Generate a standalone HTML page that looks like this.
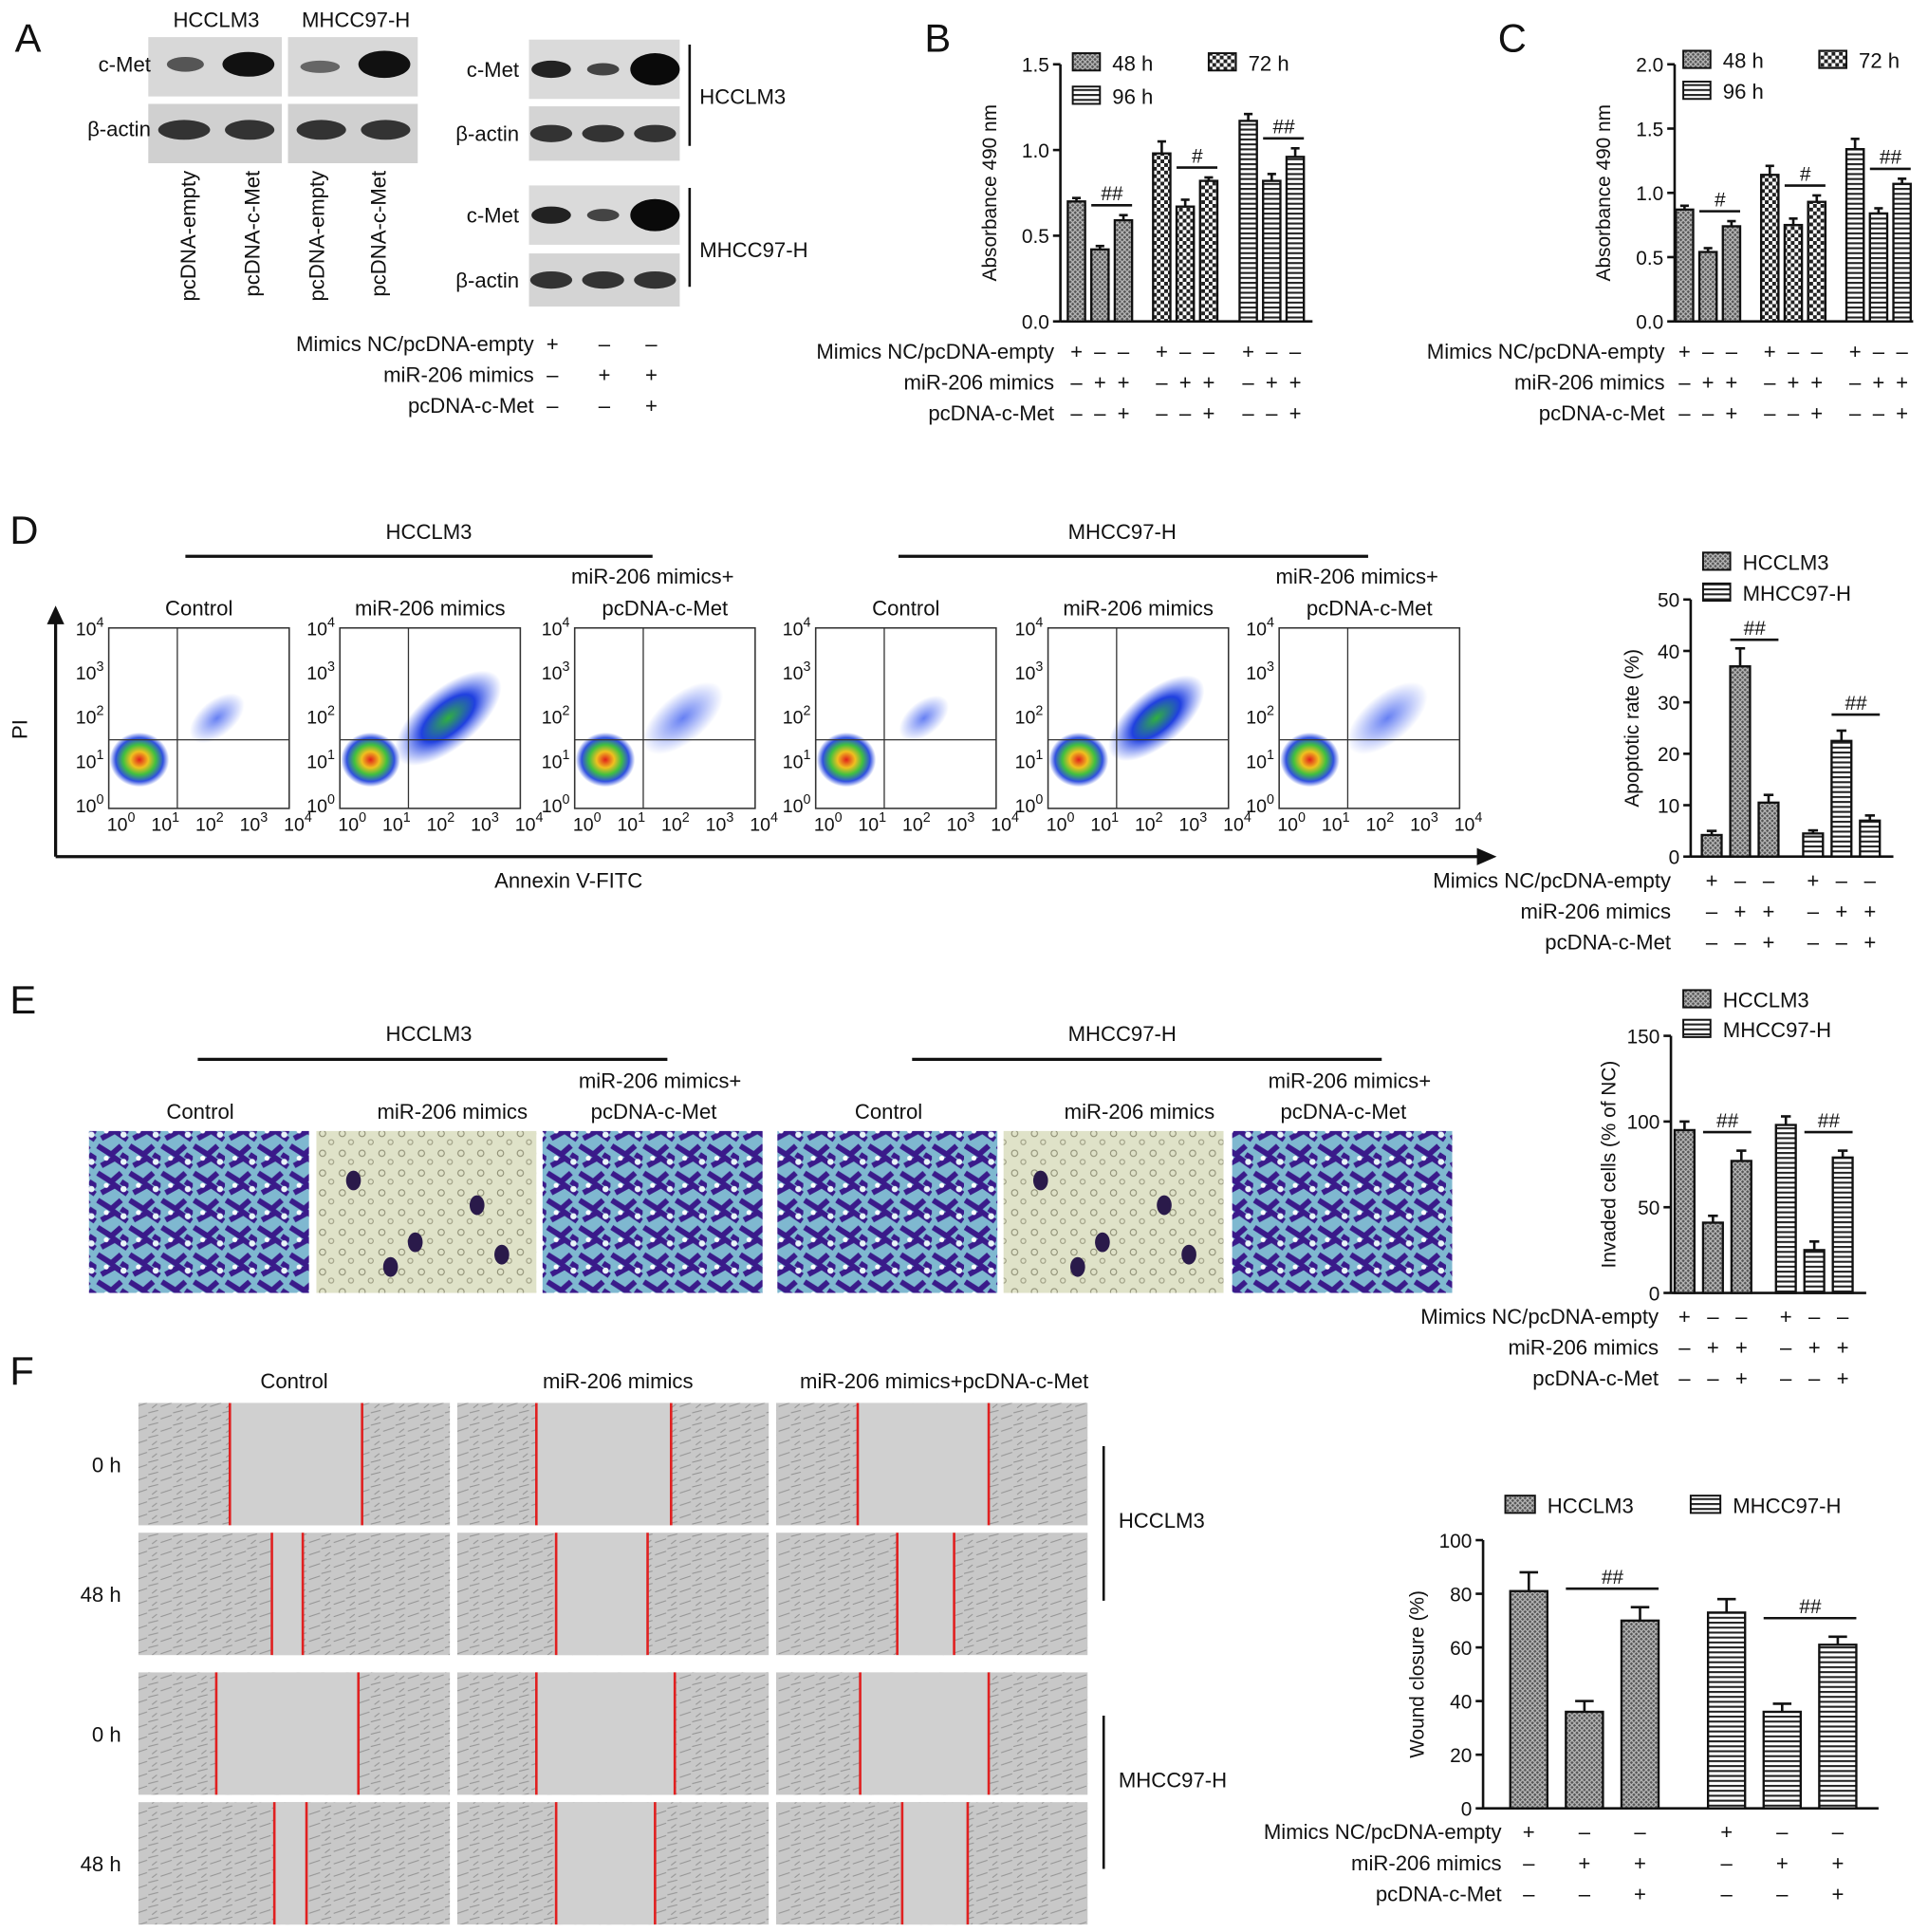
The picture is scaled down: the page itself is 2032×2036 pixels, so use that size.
<!DOCTYPE html>
<html><head><meta charset="utf-8"><style>
html,body{margin:0;padding:0;background:#fff;}
svg{display:block;font-family:"Liberation Sans",sans-serif;}
</style></head><body>
<svg id="fig" width="2032" height="2036" viewBox="0 0 1560 1563" xmlns="http://www.w3.org/2000/svg">
<defs>
<pattern id="pX" width="4" height="4" patternUnits="userSpaceOnUse"><rect width="4" height="4" fill="#555"/><path d="M0 0L4 4M4 0L0 4" stroke="#bbb" stroke-width="0.9"/></pattern>
<pattern id="pC" width="6" height="6" patternUnits="userSpaceOnUse"><rect width="6" height="6" fill="#fff"/><rect width="3" height="3" fill="#222"/><rect x="3" y="3" width="3" height="3" fill="#222"/></pattern>
<pattern id="pH" width="4" height="4" patternUnits="userSpaceOnUse"><rect width="4" height="4" fill="#fff"/><rect width="4" height="1.6" fill="#222"/></pattern>
<radialGradient id="gCore"><stop offset="0" stop-color="#e0201a"/><stop offset="0.3" stop-color="#f0c020"/><stop offset="0.55" stop-color="#40c040"/><stop offset="0.8" stop-color="#3050e0"/><stop offset="1" stop-color="#3050e0" stop-opacity="0"/></radialGradient>
<radialGradient id="gDiag"><stop offset="0" stop-color="#30b040"/><stop offset="0.5" stop-color="#2040e0"/><stop offset="1" stop-color="#4060f0" stop-opacity="0"/></radialGradient>
<radialGradient id="gDiagL"><stop offset="0" stop-color="#4060f0" stop-opacity="0.8"/><stop offset="1" stop-color="#4060f0" stop-opacity="0"/></radialGradient>
<pattern id="pInvD" width="26" height="22" patternUnits="userSpaceOnUse"><rect width="26" height="22" fill="#7fb8d0"/><path d="M1 3L12 10L20 3M4 19L15 13L25 20M20 10L26 14" stroke="#3a1a8a" stroke-width="4.5" fill="none"/><circle cx="22" cy="16" r="2.5" fill="#e8f4f8"/><circle cx="8" cy="13" r="2" fill="#fff"/></pattern>
<pattern id="pInvL" width="16" height="16" patternUnits="userSpaceOnUse"><rect width="16" height="16" fill="#dfe2c8"/><circle cx="5" cy="5" r="2.5" fill="none" stroke="#8a8a70" stroke-width="0.8"/><circle cx="12" cy="12" r="2" fill="none" stroke="#9a9a80" stroke-width="0.8"/></pattern>
<pattern id="pWound" width="20" height="10" patternUnits="userSpaceOnUse"><rect width="20" height="10" fill="#c8c8c8"/><path d="M0 3L8 1M10 8L19 5M3 9L7 6" stroke="#939393" stroke-width="0.8"/></pattern>
</defs>
<g id="root"></g>
</svg>
<script>
// ===== Data =====
const groupsSigns = [["+","–","–"],["–","+","+"],["–","–","+"]];
const rowLabels = ["Mimics NC/pcDNA-empty","miR-206 mimics","pcDNA-c-Met"];
const B_ticks = [0,0.5,1.0,1.5];
const B_48 = [0.70,0.42,0.59];
const B_72 = [0.98,0.67,0.82];
const B_96 = [1.17,0.82,0.96];
const B_err = [[0.02,0.02,0.03],[0.07,0.04,0.02],[0.04,0.04,0.05]];
const C_ticks = [0,0.5,1.0,1.5,2.0];
const C_48 = [0.87,0.54,0.74];
const C_72 = [1.14,0.75,0.93];
const C_96 = [1.34,0.84,1.07];
const C_err = [[0.03,0.03,0.04],[0.07,0.05,0.05],[0.08,0.04,0.04]];
const D_ticks = [0,10,20,30,40,50];
const D_HCC = [4.2,37,10.5];
const D_MHCC = [4.5,22.5,7];
const D_err = [[0.8,3.5,1.5],[0.6,2,1]];
const E_ticks = [0,50,100,150];
const E_HCC = [95,41,77];
const E_MHCC = [98,25,79];
const E_err = [[5,4,6],[5,5,4]];
const F_ticks = [0,20,40,60,80,100];
const F_HCC = [81,36,70];
const F_MHCC = [73,36,61];
const F_err = [[7,4,5],[5,3,3]];

const NS="http://www.w3.org/2000/svg";
const root=document.getElementById('root');
function el(tag,attrs,parent,text){const e=document.createElementNS(NS,tag);for(const k in attrs)e.setAttribute(k,attrs[k]);if(text!==undefined)e.textContent=text;(parent||root).appendChild(e);return e;}
function txt(x,y,s,size,anchor,parent,extra){const a={x:x,y:y,'font-size':size,'text-anchor':anchor||'start',fill:'#111'};if(extra)for(const k in extra)a[k]=extra[k];return el('text',a,parent,s);}

[["A",12,42],["B",748,42],["C",1212,42],["D",8,440],["E",8,820],["F",8,1120]].forEach(p=>{
 const t=txt(p[1],p[2],p[0],32,'start');
 
 
});

function barChart(o){
 const g=el('g',{});
 
 
 const y=v=>o.y0-(v/o.max)*(o.y0-o.yTop);
 el('line',{x1:o.x0,y1:o.yTop,x2:o.x0,y2:o.y0,stroke:'#111','stroke-width':2},g);
 el('line',{x1:o.x0,y1:o.y0,x2:o.xEnd,y2:o.y0,stroke:'#111','stroke-width':2},g);
 o.ticks.forEach(t=>{
  el('line',{x1:o.x0-6,y1:y(t),x2:o.x0,y2:y(t),stroke:'#111','stroke-width':2},g);
  const tl=txt(o.x0-9,y(t)+6,o.fmt?o.fmt(t):String(t),o.fs||16,'end',g);
  
  
 });
 const yt=txt(0,0,o.ytitle,o.fs||16,'middle',g,{transform:`translate(${o.x0-o.ytOff},${(o.y0+o.yTop)/2}) rotate(-90)`});
 
 
 o.series.forEach((vals,gi)=>{
  vals.forEach((v,i)=>{
   const cx=o.gx[gi]+i*o.step;
   const e=o.err[gi][i];
   el('line',{x1:cx,y1:y(v+e),x2:cx,y2:y(v),stroke:'#111','stroke-width':2},g);
   el('line',{x1:cx-o.bw/4,y1:y(v+e),x2:cx+o.bw/4,y2:y(v+e),stroke:'#111','stroke-width':2},g);
   const r=el('rect',{x:cx-o.bw/2,y:y(v),width:o.bw,height:o.y0-y(v),fill:`url(#${o.pat[gi]})`,stroke:'#111','stroke-width':1.8},g);
   
   
  });
  const xa=o.gx[gi]+o.step-o.bw/2, xb=o.gx[gi]+2*o.step+o.bw/2;
  const top=Math.max(vals[1]+o.err[gi][1],vals[2]+o.err[gi][2]);
  const gap=Array.isArray(o.sigGap)?o.sigGap[gi]:o.sigGap;
  const ly=y(top)-gap;
  el('line',{x1:xa,y1:ly,x2:xb,y2:ly,stroke:'#111','stroke-width':2},g);
  const s=txt((xa+xb)/2,ly-4,o.sig[gi],o.fs||16,'middle',g,{'font-style':'italic'});
  
  
 });
 rowLabels.forEach((lab,r)=>{
  const ry=o.y0+o.rowY0+r*o.rowDy;
  const l=txt(o.labX,ry,lab,o.lfs||17,'end',g);
  
  
  o.series.forEach((vals,gi)=>{vals.forEach((v,i)=>{
   txt(o.gx[gi]+i*o.step,ry,groupsSigns[r][i],o.lfs||17,'middle',g);
  });});
 });
 o.legend.forEach(L=>{
  const lr=el('rect',{x:L[0],y:L[1],width:o.lw||22,height:14,fill:`url(#${L[3]})`,stroke:'#111','stroke-width':1.5},g);
  
  
  const lt=txt(L[0]+(o.lw||22)+10,L[1]+14,L[2],o.legfs||17,'start',g);
  
  
 });
}

barChart({name:'chart-b',x0:858,xEnd:1062,y0:260,yTop:52,max:1.5,ticks:B_ticks,fmt:t=>t.toFixed(1),ytitle:'Absorbance 490 nm',ytOff:52,
 series:[B_48,B_72,B_96],err:B_err,gx:[871,940,1010],step:19,bw:14,pat:['pX','pC','pH'],sname:['48h','72h','96h'],sig:['##','#','##'],sigGap:8,
 rowY0:30,rowDy:25,labX:853,legend:[[868,43,'48 h','pX'],[978,43,'72 h','pC'],[868,70,'96 h','pH']]});
barChart({name:'chart-c',x0:1355,xEnd:1548,y0:260,yTop:52,max:2.0,ticks:C_ticks,fmt:t=>t.toFixed(1),ytitle:'Absorbance 490 nm',ytOff:52,
 series:[C_48,C_72,C_96],err:C_err,gx:[1363,1432,1501],step:19,bw:14,pat:['pX','pC','pH'],sname:['48h','72h','96h'],sig:['#','#','##'],sigGap:8,
 rowY0:30,rowDy:25,labX:1347,legend:[[1362,41,'48 h','pX'],[1472,41,'72 h','pC'],[1362,66,'96 h','pH']]});
barChart({name:'chart-d',x0:1368,xEnd:1532,y0:693,yTop:485,max:50,ticks:D_ticks,ytitle:'Apoptotic rate (%)',ytOff:42,
 series:[D_HCC,D_MHCC],err:D_err,gx:[1385,1467],step:23,bw:16,pat:['pX','pH'],sname:['hcclm3','mhcc97h'],sig:['##','##'],sigGap:[7,13],
 rowY0:25,rowDy:25,labX:1352,legend:[[1378,447,'HCCLM3','pX'],[1378,472,'MHCC97-H','pH']]});
barChart({name:'chart-e',x0:1352,xEnd:1510,y0:1046,yTop:838,max:150,ticks:E_ticks,ytitle:'Invaded cells (% of NC)',ytOff:45,
 series:[E_HCC,E_MHCC],err:E_err,gx:[1363,1445],step:23,bw:16,pat:['pX','pH'],sname:['hcclm3','mhcc97h'],sig:['##','##'],sigGap:15,
 rowY0:25,rowDy:25,labX:1342,legend:[[1362,801,'HCCLM3','pX'],[1362,825,'MHCC97-H','pH']]});
barChart({name:'chart-f',x0:1200,xEnd:1520,y0:1463,yTop:1246,max:100,ticks:F_ticks,ytitle:'Wound closure (%)',ytOff:48,
 series:[F_HCC,F_MHCC],err:F_err,gx:[1237,1397],step:45,bw:30,pat:['pX','pH'],sname:['hcclm3','mhcc97h'],sig:['##','##'],sigGap:15,
 rowY0:25,rowDy:25,labX:1215,lw:24,legend:[[1218,1210,'HCCLM3','pX'],[1368,1210,'MHCC97-H','pH']]});

// ===== Panel A =====
(function(){
 const g=el('g',{});
 
 
 [[120,228],[233,338]].forEach(b=>{
  el('rect',{x:b[0],y:30,width:b[1]-b[0],height:48,fill:'#d8d8d8'},g);
  el('rect',{x:b[0],y:84,width:b[1]-b[0],height:48,fill:'#d0d0d0'},g);
 });
 [[135,165,52,6,'#555'],[180,222,52,10,'#111'],[243,275,54,5,'#666'],[290,332,52,11,'#111'],
  [128,170,105,8,'#333'],[182,222,105,8,'#333'],[240,280,105,8,'#333'],[292,332,105,8,'#333']].forEach(s=>
  el('ellipse',{cx:(s[0]+s[1])/2,cy:s[2],rx:(s[1]-s[0])/2,ry:s[3],fill:s[4]},g));
 txt(175,22,'HCCLM3',17,'middle',g); txt(288,22,'MHCC97-H',17,'middle',g);
 txt(122,58,'c-Met',17,'end',g); txt(122,110,'β-actin',17,'end',g);
 ['pcDNA-empty','pcDNA-c-Met','pcDNA-empty','pcDNA-c-Met'].forEach((s,i)=>{
  txt(0,0,s,17,'end',g,{transform:`translate(${[158,210,262,312][i]},138) rotate(-90)`});
 });
 [[32,80],[86,130],[150,198],[205,248]].forEach((r,i)=>{
  el('rect',{x:428,y:r[0],width:122,height:r[1]-r[0],fill:i%2?'#d4d4d4':'#dadada'},g);
  const yy=(r[0]+r[1])/2;
  if(i%2===0){
   el('ellipse',{cx:446,cy:yy,rx:16,ry:7,fill:'#222'},g);
   el('ellipse',{cx:488,cy:yy,rx:13,ry:5,fill:'#444'},g);
   el('ellipse',{cx:530,cy:yy,rx:20,ry:13,fill:'#0a0a0a'},g);
   txt(420,yy+6,'c-Met',17,'end',g);
  } else {
   [446,488,530].forEach(x=>el('ellipse',{cx:x,cy:yy,rx:17,ry:7,fill:'#333'},g));
   txt(420,yy+6,'β-actin',17,'end',g);
  }
 });
 el('line',{x1:558,y1:36,x2:558,y2:118,stroke:'#111','stroke-width':2},g);
 el('line',{x1:558,y1:152,x2:558,y2:232,stroke:'#111','stroke-width':2},g);
 txt(566,84,'HCCLM3',17,'start',g); txt(566,208,'MHCC97-H',17,'start',g);
 rowLabels.forEach((lab,r)=>{
  const ry=284+r*25;
  txt(432,ry,lab,17,'end',g);
  [447,489,527].forEach((x,i)=>txt(x,ry,groupsSigns[r][i],17,'middle',g));
 });
})();

// ===== Panel D: flow plots =====
(function(){
 const g=el('g',{});
 
 
 el('line',{x1:45,y1:693,x2:45,y2:495,stroke:'#111','stroke-width':2.5},g);
 el('path',{d:'M38 505L45 490L52 505Z',fill:'#111'},g);
 el('line',{x1:45,y1:693,x2:1200,y2:693,stroke:'#111','stroke-width':2.5},g);
 el('path',{d:'M1195 686L1211 693L1195 700Z',fill:'#111'},g);
 txt(22,590,'PI',17,'middle',g,{transform:'rotate(-90 22 590)'});
 txt(460,718,'Annexin V-FITC',17,'middle',g);
 el('line',{x1:150,y1:450,x2:528,y2:450,stroke:'#111','stroke-width':2.5},g);
 el('line',{x1:727,y1:450,x2:1107,y2:450,stroke:'#111','stroke-width':2.5},g);
 txt(347,436,'HCCLM3',17,'middle',g); txt(908,436,'MHCC97-H',17,'middle',g);
 const boxes=[88,275,465,660,848,1035];
 const titles=['Control','miR-206 mimics','pcDNA-c-Met','Control','miR-206 mimics','pcDNA-c-Met'];
 const diag=[0.5,1,0.75,0.45,0.9,0.75];
 boxes.forEach((bx,i)=>{
  const w=146,y0=508,h=146;
  txt(bx+w/2,498,titles[i],17,'middle',g);
  if(i===2||i===5) txt(bx+w/2-10,472,'miR-206 mimics+',17,'middle',g);
  el('rect',{x:bx,y:y0,width:w,height:h,fill:'#fff',stroke:'#333','stroke-width':1.2},g);
  const qx=bx+w*0.38,qy=y0+h*0.62;
  el('ellipse',{cx:bx+w*0.6,cy:y0+h*0.5,rx:w*0.36*diag[i],ry:h*0.13*diag[i]+5,transform:`rotate(-40 ${bx+w*0.6} ${y0+h*0.5})`,fill:diag[i]>0.8?'url(#gDiag)':'url(#gDiagL)'},g);
  el('ellipse',{cx:bx+w*0.17,cy:y0+h*0.73,rx:24,ry:22,fill:'url(#gCore)'},g);
  el('line',{x1:qx,y1:y0,x2:qx,y2:y0+h,stroke:'#333','stroke-width':1},g);
  el('line',{x1:bx,y1:qy,x2:bx+w,y2:qy,stroke:'#333','stroke-width':1},g);
  [0,1,2,3,4].forEach(k=>{
   const t=txt(bx-4,y0+6+k*(h/4)*0.98,'',15,'end',g);
   el('tspan',{},t,'10'); el('tspan',{dy:-7,'font-size':11},t,String(4-k));
   const u=txt(bx+10+k*(w/4)*0.98,y0+h+18,'',15,'middle',g);
   el('tspan',{},u,'10'); el('tspan',{dy:-7,'font-size':11},u,String(k));
  });
 });
})();

// ===== Panel E =====
(function(){
 const g=el('g',{});
 
 
 el('line',{x1:160,y1:857,x2:540,y2:857,stroke:'#111','stroke-width':2.5},g);
 el('line',{x1:738,y1:857,x2:1118,y2:857,stroke:'#111','stroke-width':2.5},g);
 txt(347,842,'HCCLM3',17,'middle',g); txt(908,842,'MHCC97-H',17,'middle',g);
 const xs=[72,256,439,629,812,997], t=['Control','miR-206 mimics','pcDNA-c-Met','Control','miR-206 mimics','pcDNA-c-Met'];
 xs.forEach((x,i)=>{
  const light=(i===1||i===4);
  el('rect',{x:x,y:915,width:178,height:131,fill:light?'url(#pInvL)':'url(#pInvD)'},g);
  if(light){[[30,40],[80,90],[130,60],[60,110],[150,100]].forEach(p=>el('ellipse',{cx:x+p[0],cy:915+p[1],rx:6,ry:8,fill:'#2a1a4a'},g));}
  txt(x+(light?110:90),905,t[i],17,'middle',g);
  if(i===2||i===5) txt(x+95,880,'miR-206 mimics+',17,'middle',g);
 });
})();

// ===== Panel F =====
(function(){
 const g=el('g',{});
 
 
 const cols=[112,370,628], rows=[1135,1240,1353,1458];
 const lines=[[[186,293],[434,543],[694,800]],[[220,245],[450,524],[726,772]],[[175,290],[434,546],[696,800]],[[222,248],[450,530],[730,783]]];
 txt(238,1123,'Control',17,'middle',g); txt(500,1123,'miR-206 mimics',17,'middle',g); txt(764,1123,'miR-206 mimics+pcDNA-c-Met',17,'middle',g);
 rows.forEach((ry,r)=>{
  txt(98,ry+56,r%2?'48 h':'0 h',17,'end',g);
  cols.forEach((cx,c)=>{
   el('rect',{x:cx,y:ry,width:252,height:99,fill:'url(#pWound)'},g);
   const L=lines[r][c];
   el('rect',{x:L[0],y:ry,width:L[1]-L[0],height:99,fill:'#d0d0d0'},g);
   L.forEach(x=>el('line',{x1:x,y1:ry,x2:x,y2:ry+99,stroke:'#e02020','stroke-width':2},g));
  });
 });
 el('line',{x1:893,y1:1170,x2:893,y2:1295,stroke:'#111','stroke-width':2},g);
 el('line',{x1:893,y1:1388,x2:893,y2:1512,stroke:'#111','stroke-width':2},g);
 txt(905,1236,'HCCLM3',17,'start',g); txt(905,1446,'MHCC97-H',17,'start',g);
})();
</script>
</body></html>
